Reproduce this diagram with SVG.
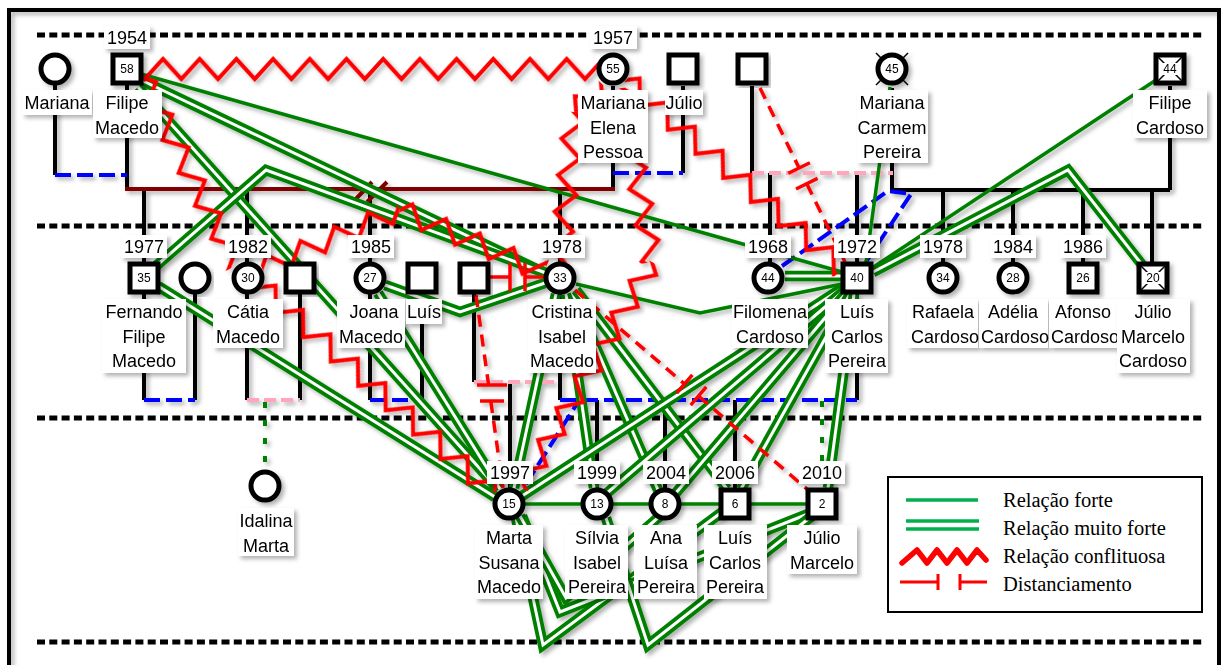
<svg xmlns="http://www.w3.org/2000/svg" xmlns:xlink="http://www.w3.org/1999/xlink" width="1221" height="665" viewBox="0 0 1221 665">
<defs>
<style>
text{font-family:"Liberation Sans",Arial,sans-serif;font-size:18px;text-anchor:middle;fill:#000}
.age{font-size:12px}
.leg{font-family:"Liberation Serif","Times New Roman",serif;font-size:20.5px;text-anchor:start}
.gen{stroke:#000;stroke-width:5;stroke-dasharray:8 4.3;fill:none}
.fam{stroke:#000;stroke-width:4;fill:none}
.blu{stroke:#0000ff;stroke-width:4;stroke-dasharray:16 6;fill:none}
.pnk{stroke:#ffa6bd;stroke-width:4;stroke-dasharray:12 5;fill:none}
.gdot{stroke:#008000;stroke-width:4;stroke-dasharray:6 12;fill:none}
.mar{stroke:#800000;stroke-width:4;fill:none}
.g1{stroke:#008000;stroke-width:3.5;fill:none}
.g2o{stroke:#008000;stroke-width:10.5;fill:none;stroke-linejoin:miter}
.g2i{stroke:#fff;stroke-width:3;fill:none;stroke-linejoin:miter}
.rd{stroke:#ff0000;stroke-width:3.5;stroke-dasharray:12 8;fill:none}
.rb{stroke:#ff0000;stroke-width:3.5;fill:none}
.nd{fill:#fff;stroke:#000;stroke-width:5}
.x{stroke:#000;stroke-width:1.5}
.lb{fill:#fff}
</style>
<filter id="sh" x="-10%" y="-10%" width="125%" height="125%">
<feDropShadow dx="3" dy="3" stdDeviation="2" flood-color="#000" flood-opacity="0.3"/>
</filter>
<pattern id="zz" patternUnits="userSpaceOnUse" x="0" y="-15" width="36.7" height="30">
<path d="M-9.175,25 L9.175,5 L27.525,25 L45.875,5" stroke="#ff0000" stroke-width="4" fill="none"/>
</pattern>
<path id="dA" d="M141,80 L545,273"/>
<path id="dB" d="M138,87 L499,490"/>
<path id="dC" d="M156,266 L266,170 L546,273"/>
<path id="dD" d="M158,286 L495,497"/>
<path id="dE" d="M385,285 L460,312 L545,283"/>
<path id="dF" d="M378,293 L500,489"/>
<path id="dG" d="M556,294 L514,488"/>
<path id="dH" d="M566,294 L594,488"/>
<path id="dI" d="M572,292 L658,490"/>
<path id="dJ" d="M576,290 L727,489"/>
<path id="dK" d="M844,287 L522,496"/>
<path id="dL" d="M845,290 L607,493"/>
<path id="dM" d="M847,292 L675,494"/>
<path id="dN" d="M850,294 L741,489"/>
<path id="dO" d="M854,294 L828,488"/>
<path id="dP" d="M873,272 L1068,170 L1143,266"/>
<path id="dQ" d="M785,276 L841,276"/>
<path id="dV1" d="M516,518 L543,645 L722,512"/>
<path id="dV2" d="M522,516 L560,612 L808,514"/>
<path id="dV3" d="M606,518 L648,645 L812,516"/>
<path id="dV4" d="M520,516 L566,598 L660,516"/>
</defs>

<rect x="0" y="0" width="1221" height="665" fill="#fff"/>
<rect x="9" y="10" width="1210" height="690" fill="none" stroke="#000" stroke-width="4" filter="url(#sh)"/>

<g id="generations">
<line class="gen" x1="37" y1="35" x2="1202" y2="35"/>
<line class="gen" x1="37" y1="226" x2="1202" y2="226"/>
<line class="gen" x1="37" y1="418" x2="1202" y2="418"/>
<line class="gen" x1="37" y1="642" x2="1202" y2="642"/>
</g>

<g id="connectors" filter="url(#sh)">
<!-- family lines -->
<path class="fam" d="M55,85 V175 M127,85 V189 M613,86 V191 M683,86 V173 M752,86 V173 M892,88 V190 H1170 M1170,86 V190"/>
<path class="fam" d="M144,189 V262 M247,189 V262 M370,189 V262 M560,189 V262 M770,173 V262 M857,173 V262 M943,190 V262 M1013,190 V262 M1083,190 V262 M1152,190 V262"/>
<path class="fam" d="M144,294 V400 M195,294 V400 M247,294 V400 M300,294 V400 M370,294 V400 M422,294 V400 M474,294 V382 M510,382 V488 M560,294 V400 M857,294 V400 M597,400 V488 M665,400 V488 M735,400 V488"/>
<line class="mar" x1="125" y1="189" x2="615" y2="189"/>
<path class="mar" d="M353,202 L372,182 M367,202 L387,182"/>
<path class="blu" d="M55,175 H127 M613,173 H683 M144,400 H195 M370,400 H422 M560,400 H857"/>
<path class="pnk" d="M752,173 H893 M247,400 H300 M474,382 H558"/>
<path class="gdot" d="M265,402 V470 M822,401 V488"/>
<path class="blu" d="M526,484 L578,402"/>
<path class="blu" stroke-dasharray="10 6" d="M782,266 L888,191 L911,194 L866,262"/>

<!-- very strong (double) relations -->
<use href="#dA" class="g2o"/><use href="#dA" class="g2i"/>
<use href="#dB" class="g2o"/><use href="#dB" class="g2i"/>
<use href="#dC" class="g2o"/><use href="#dC" class="g2i"/>
<use href="#dD" class="g2o"/><use href="#dD" class="g2i"/>
<use href="#dE" class="g2o"/><use href="#dE" class="g2i"/>
<use href="#dF" class="g2o"/><use href="#dF" class="g2i"/>
<use href="#dG" class="g2o"/><use href="#dG" class="g2i"/>
<use href="#dH" class="g2o"/><use href="#dH" class="g2i"/>
<use href="#dI" class="g2o"/><use href="#dI" class="g2i"/>
<use href="#dJ" class="g2o"/><use href="#dJ" class="g2i"/>
<use href="#dK" class="g2o"/><use href="#dK" class="g2i"/>
<use href="#dL" class="g2o"/><use href="#dL" class="g2i"/>
<use href="#dM" class="g2o"/><use href="#dM" class="g2i"/>
<use href="#dN" class="g2o"/><use href="#dN" class="g2i"/>
<use href="#dO" class="g2o"/><use href="#dO" class="g2i"/>
<use href="#dP" class="g2o"/><use href="#dP" class="g2i"/>
<use href="#dQ" class="g2o"/><use href="#dQ" class="g2i"/>
<use href="#dV1" class="g2o"/><use href="#dV1" class="g2i"/>
<use href="#dV2" class="g2o"/><use href="#dV2" class="g2i"/>
<use href="#dV3" class="g2o"/><use href="#dV3" class="g2i"/>
<use href="#dV4" class="g2o"/><use href="#dV4" class="g2i"/>

<!-- strong (single) relations -->
<path class="g1" d="M141,74 L842,272"/>
<path class="g1" d="M576,284 L700,313 L842,284"/>
<path class="g1" d="M890,87 L866,263"/>
<path class="g1" d="M1156,80 L872,268"/>
<path class="g1" d="M524,504 L806,504"/>

<!-- conflict relations -->
<rect x="-11" y="-15" width="455" height="30" fill="url(#zz)" transform="translate(153.8,69)"/>
<rect x="0" y="-15" width="209.7" height="30" fill="url(#zz)" transform="translate(143,78) rotate(63.68)"/>
<rect x="0" y="-15" width="310.3" height="30" fill="url(#zz)" transform="translate(262,287) rotate(41.6)"/>
<rect x="0" y="-15" width="149.7" height="30" fill="url(#zz)" transform="translate(262,268) rotate(-22.8)"/>
<rect x="0" y="-15" width="156.8" height="30" fill="url(#zz)" transform="translate(400,210) rotate(23.3)"/>
<rect x="0" y="-15" width="39.6" height="30" fill="url(#zz)" transform="translate(601,83) rotate(132.9)"/>
<rect x="0" y="-15" width="150.7" height="30" fill="url(#zz)" transform="translate(574,112) rotate(95.3)"/>
<rect x="0" y="-15" width="286.4" height="30" fill="url(#zz)" transform="translate(626,80) rotate(41.04)"/>
<rect x="0" y="-15" width="176.6" height="30" fill="url(#zz)" transform="translate(622,88) rotate(80.2)"/>
<rect x="0" y="-15" width="260.7" height="30" fill="url(#zz)" transform="translate(652,262) rotate(119.9)"/>

<!-- distancing relations -->
<path class="rd" d="M760,88 L799.1,168 M806.8,183.7 L845,262"/>
<path class="rb" d="M788.3,173.3 L809.9,162.7 M796,189 L817.6,178.4"/>
<path class="rd" d="M476,295 L488.6,385 M490.8,401 L503,488"/>
<path class="rb" d="M477,385 H507 M480,401 H504"/>
<path class="rb" d="M489,277 H510 M525,277 H545 M510,263 V291 M525,263 V291"/>
<path class="rd" d="M575,290 L684.5,384 M698.5,396 L808,490"/>
<path class="rb" d="M676.7,393.1 L692.3,374.9 M690.7,405.1 L706.3,386.9"/>
</g>

<g id="n-mariana" filter="url(#sh)">
<circle class="nd" cx="55" cy="69" r="14"/>
<rect class="lb" x="22" y="90" width="70" height="25"/><text x="57" y="109">Mariana</text>
</g>
<g id="n-filipe-macedo" filter="url(#sh)">
<rect class="nd" x="113" y="55" width="28" height="28"/><text class="age" x="127" y="73.3">58</text>
<rect class="lb" x="104" y="26" width="46" height="23"/><text x="127" y="44">1954</text>
<rect class="lb" x="93" y="90" width="69" height="48"/><text x="127" y="109">Filipe</text><text x="127" y="133.5">Macedo</text>
</g>
<g id="n-mariana-elena" filter="url(#sh)">
<circle class="nd" cx="613" cy="69" r="14"/><text class="age" x="613" y="73.3">55</text>
<rect class="lb" x="590" y="26" width="47" height="23"/><text x="613" y="44">1957</text>
<rect class="lb" x="578" y="90" width="70" height="73"/><text x="613" y="109">Mariana</text><text x="613" y="133.5">Elena</text><text x="613" y="158">Pessoa</text>
</g>
<g id="n-julio" filter="url(#sh)">
<rect class="nd" x="669" y="55" width="28" height="28"/>
<rect class="lb" x="665" y="90" width="38" height="25"/><text x="684" y="109">Júlio</text>
</g>
<g id="n-pai-filomena" filter="url(#sh)">
<rect class="nd" x="738" y="55" width="28" height="28"/>
</g>
<g id="n-mariana-carmem" filter="url(#sh)">
<path class="x" d="M876,53 L908,85 M908,53 L876,85"/>
<circle class="nd" cx="892" cy="69" r="14"/><text class="age" x="892" y="73.3">45</text>
<rect class="lb" x="857" y="90" width="71" height="73"/><text x="892" y="109">Mariana</text><text x="892" y="133.5">Carmem</text><text x="892" y="158">Pereira</text>
</g>
<g id="n-filipe-cardoso" filter="url(#sh)">
<rect class="nd" x="1156" y="55" width="28" height="28"/>
<path class="x" d="M1158,57 L1182,81 M1182,57 L1158,81"/>
<rect fill="#fff" x="1162" y="63" width="16" height="12"/><text class="age" x="1170" y="73.3">44</text>
<rect class="lb" x="1133" y="90" width="74" height="48"/><text x="1170" y="109">Filipe</text><text x="1170" y="133.5">Cardoso</text>
</g>

<g id="n-fernando" filter="url(#sh)">
<rect class="nd" x="130" y="264" width="28" height="28"/><text class="age" x="144" y="282.3">35</text>
<rect class="lb" x="121" y="235" width="46" height="23"/><text x="144" y="253">1977</text>
<rect class="lb" x="102" y="299" width="84" height="74"/><text x="144" y="318">Fernando</text><text x="144" y="342.5">Filipe</text><text x="144" y="367">Macedo</text>
</g>
<g id="n-esposa-fernando" filter="url(#sh)">
<circle class="nd" cx="195" cy="278" r="14"/>
</g>
<g id="n-catia" filter="url(#sh)">
<circle class="nd" cx="248" cy="278" r="14"/><text class="age" x="248" y="282.3">30</text>
<rect class="lb" x="225" y="235" width="46" height="23"/><text x="248" y="253">1982</text>
<rect class="lb" x="213" y="299" width="70" height="49"/><text x="248" y="318">Cátia</text><text x="248" y="342.5">Macedo</text>
</g>
<g id="n-marido-catia" filter="url(#sh)">
<rect class="nd" x="286" y="264" width="28" height="28"/>
</g>
<g id="n-joana" filter="url(#sh)">
<circle class="nd" cx="370" cy="278" r="14"/><text class="age" x="370" y="282.3">27</text>
<rect class="lb" x="348" y="235" width="46" height="23"/><text x="371" y="253">1985</text>
<rect class="lb" x="337" y="299" width="68" height="49"/><text x="374" y="318">Joana</text><text x="371" y="342.5">Macedo</text>
</g>
<g id="n-luis" filter="url(#sh)">
<rect class="nd" x="408" y="264" width="28" height="28"/>
<rect class="lb" x="406" y="299" width="36" height="25"/><text x="424" y="318">Luís</text>
</g>
<g id="n-pai-marta" filter="url(#sh)">
<rect class="nd" x="460" y="264" width="28" height="28"/>
</g>
<g id="n-cristina" filter="url(#sh)">
<circle class="nd" cx="560" cy="278" r="14"/><text class="age" x="560" y="282.3">33</text>
<rect class="lb" x="539" y="235" width="46" height="23"/><text x="562" y="253">1978</text>
<rect class="lb" x="528" y="299" width="68" height="74"/><text x="562" y="318">Cristina</text><text x="562" y="342.5">Isabel</text><text x="562" y="367">Macedo</text>
</g>
<g id="n-filomena" filter="url(#sh)">
<circle class="nd" cx="768" cy="278" r="14"/><text class="age" x="768" y="282.3">44</text>
<rect class="lb" x="745" y="235" width="46" height="23"/><text x="768" y="253">1968</text>
<rect class="lb" x="732" y="299" width="76" height="49"/><text x="770" y="318">Filomena</text><text x="770" y="342.5">Cardoso</text>
</g>
<g id="n-luis-carlos" filter="url(#sh)">
<rect class="nd" x="843" y="264" width="28" height="28"/><text class="age" x="857" y="282.3">40</text>
<rect class="lb" x="834" y="235" width="46" height="23"/><text x="857" y="253">1972</text>
<rect class="lb" x="825" y="299" width="63" height="74"/><text x="857" y="318">Luís</text><text x="857" y="342.5">Carlos</text><text x="857" y="367">Pereira</text>
</g>
<g id="n-rafaela" filter="url(#sh)">
<circle class="nd" cx="943" cy="278" r="14"/><text class="age" x="943" y="282.3">34</text>
<rect class="lb" x="920" y="235" width="46" height="23"/><text x="943" y="253">1978</text>
<rect class="lb" x="907" y="299" width="71" height="49"/><text x="943" y="318">Rafaela</text><text x="945" y="342.5">Cardoso</text>
</g>
<g id="n-adelia" filter="url(#sh)">
<circle class="nd" cx="1013" cy="278" r="14"/><text class="age" x="1013" y="282.3">28</text>
<rect class="lb" x="990" y="235" width="46" height="23"/><text x="1013" y="253">1984</text>
<rect class="lb" x="979" y="299" width="69" height="49"/><text x="1013" y="318">Adélia</text><text x="1015" y="342.5">Cardoso</text>
</g>
<g id="n-afonso" filter="url(#sh)">
<rect class="nd" x="1069" y="264" width="28" height="28"/><text class="age" x="1083" y="282.3">26</text>
<rect class="lb" x="1060" y="235" width="46" height="23"/><text x="1083" y="253">1986</text>
<rect class="lb" x="1049" y="299" width="69" height="49"/><text x="1083" y="318">Afonso</text><text x="1085" y="342.5">Cardoso</text>
</g>
<g id="n-julio-marcelo-cardoso" filter="url(#sh)">
<rect class="nd" x="1139" y="264" width="28" height="28"/>
<path class="x" d="M1141,266 L1165,290 M1165,266 L1141,290"/>
<rect fill="#fff" x="1145" y="272" width="16" height="12"/><text class="age" x="1153" y="282.3">20</text>
<rect class="lb" x="1117" y="299" width="73" height="74"/><text x="1153" y="318">Júlio</text><text x="1153" y="342.5">Marcelo</text><text x="1153" y="367">Cardoso</text>
</g>

<g id="n-idalina" filter="url(#sh)">
<circle class="nd" cx="265" cy="486" r="14"/>
<rect class="lb" x="238" y="508" width="56" height="48"/><text x="266" y="527">Idalina</text><text x="266" y="551.5">Marta</text>
</g>
<g id="n-marta" filter="url(#sh)">
<circle class="nd" cx="509" cy="504" r="14"/><text class="age" x="509" y="508.3">15</text>
<rect class="lb" x="487" y="461" width="46" height="23"/><text x="510" y="479">1997</text>
<rect class="lb" x="475" y="525" width="68" height="74"/><text x="509" y="544">Marta</text><text x="509" y="568.5">Susana</text><text x="509" y="593">Macedo</text>
</g>
<g id="n-silvia" filter="url(#sh)">
<circle class="nd" cx="597" cy="504" r="14"/><text class="age" x="597" y="508.3">13</text>
<rect class="lb" x="574" y="461" width="46" height="23"/><text x="597" y="479">1999</text>
<rect class="lb" x="565" y="525" width="63" height="74"/><text x="597" y="544">Sílvia</text><text x="597" y="568.5">Isabel</text><text x="597" y="593">Pereira</text>
</g>
<g id="n-ana" filter="url(#sh)">
<circle class="nd" cx="665" cy="504" r="14"/><text class="age" x="665" y="508.3">8</text>
<rect class="lb" x="643" y="461" width="46" height="23"/><text x="666" y="479">2004</text>
<rect class="lb" x="634" y="525" width="63" height="74"/><text x="666" y="544">Ana</text><text x="666" y="568.5">Luísa</text><text x="666" y="593">Pereira</text>
</g>
<g id="n-luis-jr" filter="url(#sh)">
<rect class="nd" x="721" y="490" width="28" height="28"/><text class="age" x="735" y="508.3">6</text>
<rect class="lb" x="712" y="461" width="46" height="23"/><text x="735" y="479">2006</text>
<rect class="lb" x="704" y="525" width="63" height="74"/><text x="735" y="544">Luís</text><text x="735" y="568.5">Carlos</text><text x="735" y="593">Pereira</text>
</g>
<g id="n-julio-marcelo" filter="url(#sh)">
<rect class="nd" x="808" y="490" width="28" height="28"/><text class="age" x="822" y="508.3">2</text>
<rect class="lb" x="799" y="461" width="46" height="23"/><text x="822" y="479">2010</text>
<rect class="lb" x="787" y="525" width="70" height="49"/><text x="822" y="544">Júlio</text><text x="822" y="568.5">Marcelo</text>
</g>

<g id="legend">
<rect x="888" y="477" width="314" height="135" fill="#fff" stroke="#000" stroke-width="2"/>
<line x1="906" y1="500" x2="978" y2="500" stroke="#00b050" stroke-width="3.5"/>
<line x1="906" y1="521" x2="979" y2="521" stroke="#00b050" stroke-width="3.5"/>
<line x1="906" y1="529" x2="979" y2="529" stroke="#00b050" stroke-width="3.5"/>
<path d="M902,563 L917,550 L927,563 L937,550 L947,563 L957,550 L967,563 L977,550 L986,560" stroke="#ff0000" stroke-width="5.5" fill="none" stroke-linejoin="round" stroke-linecap="round"/>
<path d="M900,582 H938 M938,574 V590 M960,574 V590 M960,582 H987" stroke="#ff0000" stroke-width="3" fill="none"/>
<text class="leg" x="1003" y="507">Relação forte</text>
<text class="leg" x="1003" y="535">Relação muito forte</text>
<text class="leg" x="1003" y="563">Relação conflituosa</text>
<text class="leg" x="1003" y="591">Distanciamento</text>
</g>
</svg>
